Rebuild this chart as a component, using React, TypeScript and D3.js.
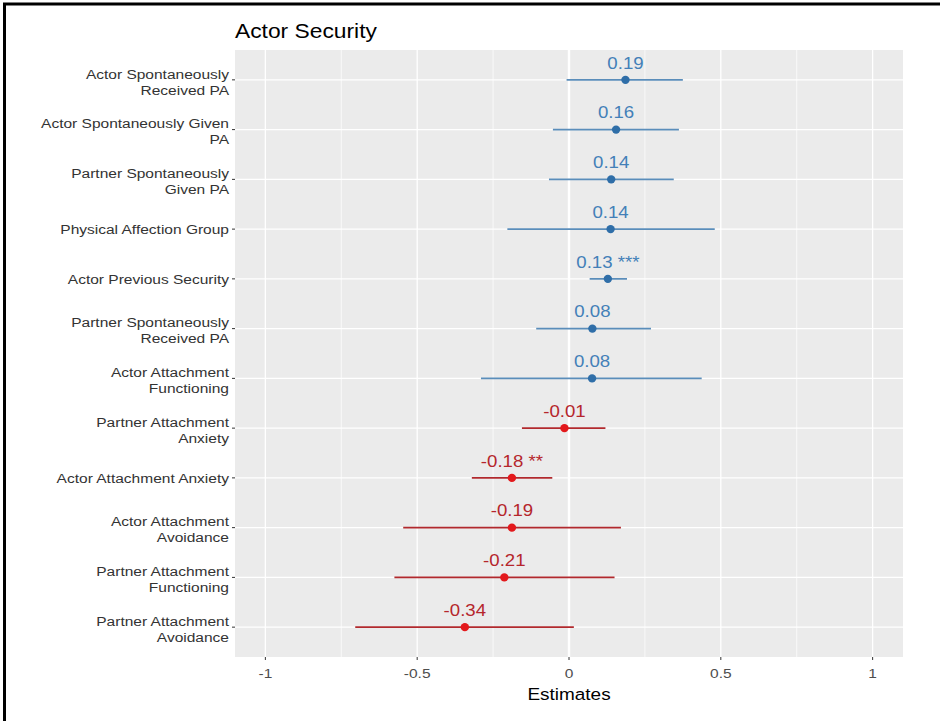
import React from 'react'
import * as d3 from 'd3'

// predictors, top to bottom
const terms = [
  'Actor Spontaneously\nReceived PA',
  'Actor Spontaneously Given\nPA',
  'Partner Spontaneously\nGiven PA',
  'Physical Affection Group',
  'Actor Previous Security',
  'Partner Spontaneously\nReceived PA',
  'Actor Attachment\nFunctioning',
  'Partner Attachment\nAnxiety',
  'Actor Attachment Anxiety',
  'Actor Attachment\nAvoidance',
  'Partner Attachment\nFunctioning',
  'Partner Attachment\nAvoidance',
]
const estimates = [0.186, 0.155, 0.139, 0.137, 0.128, 0.077, 0.076, -0.015, -0.188, -0.188, -0.213, -0.343]
const ciLow = [-0.008, -0.053, -0.066, -0.203, 0.068, -0.108, -0.29, -0.155, -0.32, -0.546, -0.575, -0.704]
const ciHigh = [0.375, 0.362, 0.345, 0.48, 0.191, 0.27, 0.437, 0.12, -0.055, 0.171, 0.15, 0.016]
const labels = ['0.19', '0.16', '0.14', '0.14', '0.13 ***', '0.08', '0.08', '-0.01', '-0.18 **', '-0.19', '-0.21', '-0.34']
const xTicks = [-1, -0.5, 0, 0.5, 1]
const xMinor = [-0.75, -0.25, 0.25, 0.75]

const W = 940
const H = 721
const panel = { left: 235, right: 903, top: 50, bottom: 657 }
const font = '"Liberation Sans", Arial, sans-serif'

// the screenshot is a bit stretched sideways, so text gets a horizontal scale
const T = ({ x, y, size, fill, anchor = 'start', sx = 1.15, children }: any) => (
  <text transform={`translate(${x},${y}) scale(${sx},1)`} dy="0.35em" textAnchor={anchor} fontSize={size} fill={fill}>
    {children}
  </text>
)

const App = () => {
  const x = d3.scaleLinear().domain([-1.1, 1.1]).range([panel.left, panel.right])
  const y = d3.scalePoint<string>().domain(terms).range([panel.top, panel.bottom]).padding(0.6)

  const pos = (v: number) => v >= 0
  const lineCol = (v: number) => (pos(v) ? '#5A8DBA' : '#B1292D')
  const dotCol = (v: number) => (pos(v) ? '#2F6EA8' : '#E3191C')
  const textCol = (v: number) => (pos(v) ? '#4380B8' : '#B5262B')

  return (
    <div style={{ position: 'absolute', left: 0, top: 0 }}>
      <svg width={W} height={H} style={{ display: 'block', fontFamily: font }}>
        <rect width={W} height={H} fill="#fff" />
        {/* frame of the screenshot */}
        <line x1={4.5} x2={4.5} y1={3} y2={H} stroke="#000" strokeWidth={3} />
        <line x1={3} x2={W} y1={4} y2={4} stroke="#000" strokeWidth={3} />

        <T x={panel.left} y={31} size={20} fill="#000" sx={1.14}>Actor Security</T>

        <rect x={panel.left} y={panel.top} width={panel.right - panel.left} height={panel.bottom - panel.top} fill="#EBEBEB" />
        {xMinor.map(t => (
          <line key={'m' + t} x1={x(t)} x2={x(t)} y1={panel.top} y2={panel.bottom} stroke="#fff" strokeWidth={0.7} />
        ))}
        {xTicks.map(t => (
          <line key={'M' + t} x1={x(t)} x2={x(t)} y1={panel.top} y2={panel.bottom} stroke="#fff" strokeWidth={t === 0 ? 2.4 : 1.3} />
        ))}
        {terms.map(t => (
          <line key={'h' + t} x1={panel.left} x2={panel.right} y1={y(t)} y2={y(t)} stroke="#fff" strokeWidth={1.3} />
        ))}

        {terms.map((t, i) => {
          const yy = y(t) as number
          const e = estimates[i]
          return (
            <g key={'d' + t}>
              <line x1={x(ciLow[i])} x2={x(ciHigh[i])} y1={yy} y2={yy} stroke={lineCol(e)} strokeWidth={1.6} />
              <circle cx={x(e)} cy={yy} r={4.2} fill={dotCol(e)} />
              <T x={x(e)} y={yy - 17} anchor="middle" size={16.5} fill={textCol(e)} sx={1.13}>{labels[i]}</T>
            </g>
          )
        })}

        {/* y axis */}
        {terms.map(t => {
          const yy = y(t) as number
          const lines = t.split('\n')
          const off = lines.length === 1 ? [0] : [-6, 10]
          return (
            <g key={'y' + t}>
              <line x1={panel.left - 3} x2={panel.left} y1={yy} y2={yy} stroke="#333" strokeWidth={1} />
              {lines.map((s, k) => (
                <T key={k} x={panel.left - 6} y={yy + off[k]} anchor="end" size={13.5} fill="#333">{s}</T>
              ))}
            </g>
          )
        })}

        {/* x axis */}
        {xTicks.map(t => (
          <g key={'x' + t}>
            <line x1={x(t)} x2={x(t)} y1={panel.bottom} y2={panel.bottom + 3} stroke="#333" strokeWidth={1} />
            <T x={x(t)} y={panel.bottom + 16} anchor="middle" size={13.5} fill="#4D4D4D">{t}</T>
          </g>
        ))}
        <T x={(panel.left + panel.right) / 2} y={694} anchor="middle" size={16.5} fill="#000">Estimates</T>
      </svg>
    </div>
  )
}

export default App
